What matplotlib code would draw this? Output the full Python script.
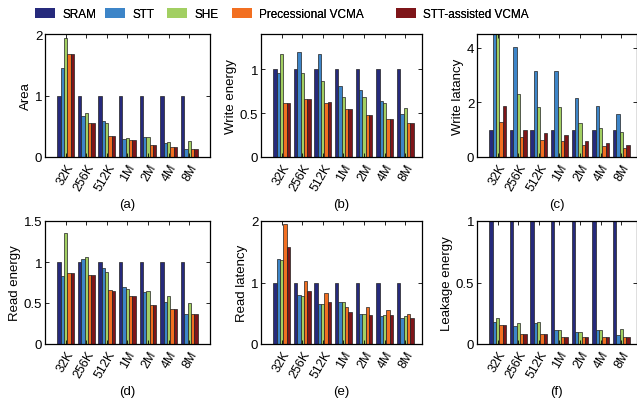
import matplotlib
matplotlib.use('Agg')
import matplotlib.pyplot as plt
from matplotlib.patches import Patch
import numpy as np

plt.rcParams['font.family'] = ['Liberation Sans', 'DejaVu Sans']

sizes = ['32K', '256K', '512K', '1M', '2M', '4M', '8M']
techs = ['SRAM', 'STT', 'SHE', 'Precessional VCMA', 'STT-assisted VCMA']
colors = ['#262a7c', '#3d85c8', '#a2cf62', '#f26f21', '#7e1519']

# values normalised to SRAM, one list per technology
area = [
    [1, 1, 1, 1, 1, 1, 1],
    [1.45, 0.66, 0.59, 0.30, 0.32, 0.23, 0.135],
    [1.93, 0.71, 0.56, 0.31, 0.32, 0.24, 0.26],
    [1.68, 0.55, 0.34, 0.27, 0.19, 0.16, 0.13],
    [1.68, 0.55, 0.34, 0.27, 0.19, 0.16, 0.13],
]
write_energy = [
    [1, 1, 1, 1, 1, 1, 1],
    [0.96, 1.19, 1.17, 0.81, 0.76, 0.64, 0.49],
    [1.17, 0.96, 0.87, 0.68, 0.68, 0.62, 0.555],
    [0.61, 0.66, 0.62, 0.55, 0.48, 0.43, 0.39],
    [0.62, 0.66, 0.63, 0.55, 0.48, 0.43, 0.39],
]
write_latency = [
    [1, 1, 1, 1, 1, 1, 1],
    [5.0, 4.04, 3.13, 3.13, 2.16, 1.87, 1.56],
    [4.6, 2.29, 1.82, 1.82, 1.26, 1.07, 0.91],
    [1.28, 0.72, 0.63, 0.59, 0.45, 0.39, 0.33],
    [1.87, 1.0, 0.87, 0.80, 0.60, 0.52, 0.44],
]
read_energy = [
    [1, 1, 1, 1, 1, 1, 1],
    [0.83, 1.04, 0.93, 0.69, 0.63, 0.51, 0.37],
    [1.35, 1.06, 0.88, 0.675, 0.65, 0.58, 0.50],
    [0.87, 0.845, 0.66, 0.585, 0.48, 0.43, 0.36],
    [0.87, 0.84, 0.65, 0.58, 0.48, 0.43, 0.36],
]
read_latency = [
    [1, 1, 1, 1, 1, 1, 1],
    [1.38, 0.79, 0.65, 0.68, 0.48, 0.45, 0.42],
    [1.36, 0.78, 0.65, 0.68, 0.49, 0.47, 0.45],
    [1.95, 1.03, 0.83, 0.60, 0.60, 0.55, 0.48],
    [1.58, 0.86, 0.69, 0.52, 0.47, 0.47, 0.42],
]
leakage = [
    [1, 1, 1, 1, 1, 1, 1],
    [0.18, 0.15, 0.17, 0.11, 0.10, 0.11, 0.07],
    [0.21, 0.17, 0.175, 0.115, 0.10, 0.11, 0.12],
    [0.155, 0.08, 0.085, 0.055, 0.055, 0.055, 0.06],
    [0.155, 0.08, 0.085, 0.055, 0.055, 0.055, 0.06],
]

panels = [
    (area, 'Area', 2, [0, 1, 2], ['0', '1', '2'], '(a)'),
    (write_energy, 'Write energy', 1.4, [0, 0.5, 1], ['0', '0.5', '1'], '(b)'),
    (write_latency, 'Write latancy', 4.5, [0, 2, 4], ['0', '2', '4'], '(c)'),
    (read_energy, 'Read energy', 1.5, [0, 0.5, 1, 1.5], ['0', '0.5', '1', '1.5'], '(d)'),
    (read_latency, 'Read latency', 2, [0, 1, 2], ['0', '1', '2'], '(e)'),
    (leakage, 'Leakage energy', 1, [0, 0.5, 1], ['0', '0.5', '1'], '(f)'),
]

W, H = 637, 402
fig = plt.figure(figsize=(W / 100, H / 100), dpi=100)

# axes boxes in pixels
lefts = [45, 261, 477]
xmax = [8.0, 7.8, 7.75]
tops = [35, 222]
ax_h = 123
px_per_unit = 20.6

x = np.arange(1, 8)
bw = 0.165

for k, (data, ylab, ytop, yt, ytl, tag) in enumerate(panels):
    row, col = divmod(k, 3)
    left = lefts[col]
    width = xmax[col] * px_per_unit
    top = tops[row]
    ax = fig.add_axes([left / W, 1 - (top + ax_h) / H, width / W, ax_h / H])
    for i, vals in enumerate(data):
        ax.bar(x + (i - 2) * bw, vals, bw, color=colors[i],
               edgecolor='#222222', linewidth=0.5)
    ax.set_xlim(0, xmax[col])
    ax.set_ylim(0, ytop)
    ax.set_yticks(yt)
    ax.set_yticklabels(ytl, fontsize=9.5)
    ax.set_xticks(x)
    ax.set_xticklabels(sizes, rotation=60, ha='right', va='top',
                       rotation_mode='anchor', fontsize=9)
    ax.tick_params(direction='in', length=3, width=0.6, top=True, right=True, pad=2)
    ax.tick_params(axis='x', pad=3)
    ax.set_ylabel(ylab, fontsize=9.5, labelpad=2)
    for s in ax.spines.values():
        s.set_linewidth(0.9)
    ax.text(0.5, -0.335, tag, transform=ax.transAxes, ha='center', va='top',
            fontsize=9.5)

# legend entries placed one by one (uneven spacing in the original)
leg_x = [30, 100, 162, 227, 391]
for c, name, lx in zip(colors, techs, leg_x):
    leg = fig.legend([Patch(facecolor=c, edgecolor='none')], [name],
                     loc='center left', bbox_to_anchor=(lx / W, 1 - 15 / H),
                     frameon=False, fontsize=8.5, handlelength=1.75,
                     handleheight=0.9, handletextpad=0.6, borderaxespad=0)
    fig.add_artist(leg)

fig.savefig('out.png', dpi=100)
